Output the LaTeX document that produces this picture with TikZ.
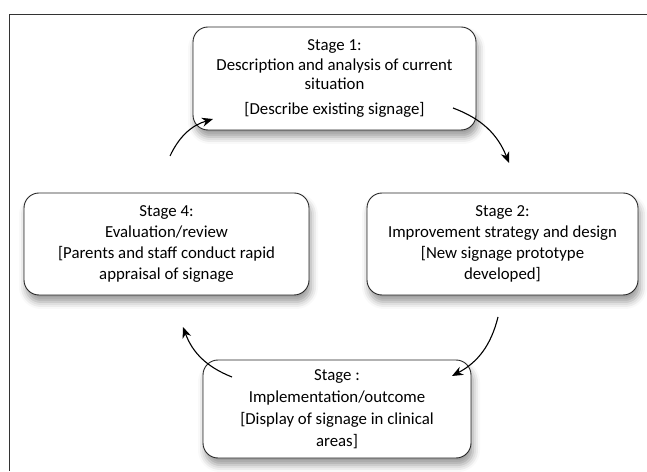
\documentclass[tikz,border=0pt]{standalone}
\usepackage{fontspec}
\setmainfont{Carlito}
\usetikzlibrary{arrows.meta}
\usetikzlibrary{shadows.blur}
\newcommand{\drawCycleArrow}[2]{
	\draw[cycle arrow] (#1) to[bend left=24] (#2);
}

\begin{document}
\begin{tikzpicture}[x=1pt, y=1pt,
	stage box/.style={draw=black!85, line width=0.9pt, rounded corners=15pt, fill=white,
		align=center, inner sep=0pt, font=\fontsize{16.8}{21}\selectfont,
		blur shadow={shadow xshift=2pt, shadow yshift=-7pt, shadow blur radius=7pt, shadow opacity=40}},
	cycle arrow/.style={line width=1.1pt, -{Stealth[length=11pt, width=9pt, inset=3.5pt]}}]

		\useasboundingbox (0,0) rectangle (647,471);
		\draw[line width=0.9pt, black!80] (647,457) -- (9,457) -- (9,0);

		\coordinate (S1_C) at (334.5,392.5);
		\coordinate (S2_C) at (502.5,227);
		\coordinate (S3_C) at (337,62);
		\coordinate (S4_C) at (166.5,227);

		\coordinate (A41_S) at (170,315);
		\coordinate (A41_E) at (213,352);
		\coordinate (A12_S) at (453,363);
		\coordinate (A12_E) at (509,308);
		\coordinate (A23_S) at (498,154);
		\coordinate (A23_E) at (452,95);
		\coordinate (A34_S) at (232,94);
		\coordinate (A34_E) at (183,144);

		\node[stage box, minimum width=283pt, minimum height=103pt, font=\fontsize{16.8}{19.5}\selectfont] (S1) at (S1_C)
			{Stage 1:\\Description and analysis of current\\situation\\[5pt][Describe existing signage]};
		\node[stage box, minimum width=271pt, minimum height=102pt] (S2) at (S2_C)
			{Stage 2:\\Improvement strategy and design\\{}[New signage prototype\\developed]};
		\node[stage box, minimum width=268pt, minimum height=98pt, font=\fontsize{16.8}{22}\selectfont] (S3) at (S3_C)
			{Stage :\\Implementation/outcome\\{}[Display of signage in clinical\\areas]};
		\node[stage box, minimum width=285pt, minimum height=102pt] (S4) at (S4_C)
			{Stage 4:\\Evaluation/review\\{}[Parents and staff conduct rapid\\appraisal of signage};

		\drawCycleArrow{A41_S}{A41_E}
		\drawCycleArrow{A12_S}{A12_E}
		\drawCycleArrow{A23_S}{A23_E}
		\drawCycleArrow{A34_S}{A34_E}

	\end{tikzpicture}
\end{document}
